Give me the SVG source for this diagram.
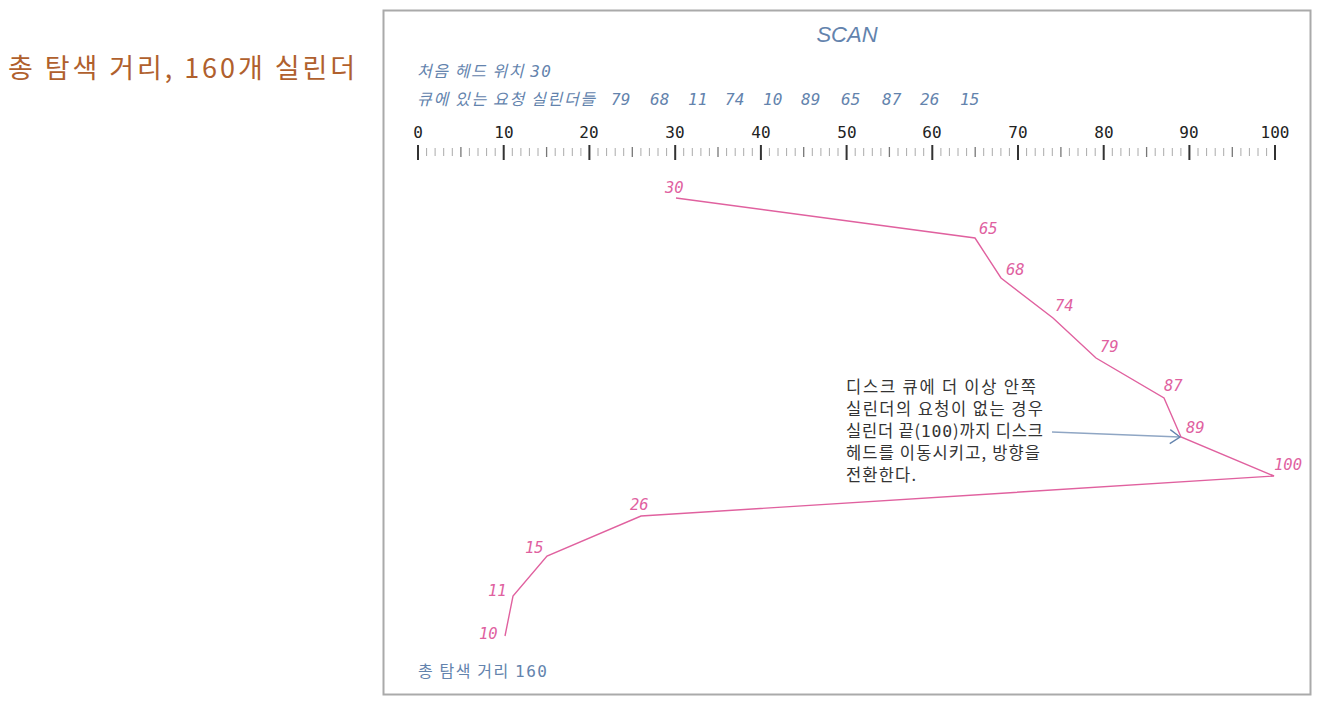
<svg xmlns="http://www.w3.org/2000/svg" width="1330" height="712" viewBox="0 0 1330 712">
<style>
.kr{font-family:"Noto Sans CJK KR","Noto Sans",sans-serif}
.mono{font-family:"DejaVu Sans Mono","Liberation Mono",monospace}
.blue{fill:#6383ad}
.lbl{font-family:"DejaVu Sans Mono","Liberation Mono",monospace;font-style:italic;font-size:15.5px;fill:#e0619f}
.maj{stroke:#333;stroke-width:2}
.mid{stroke:#777;stroke-width:1.3}
.min{stroke:#aaa;stroke-width:1}
</style>
<defs>
<marker id="arr" viewBox="0 0 12 16" refX="11" refY="8" markerWidth="12" markerHeight="16" markerUnits="userSpaceOnUse" orient="auto">
<path d="M1,1 L11,8 L1,15" fill="none" stroke="#6383ad" stroke-width="1.3"/>
</marker>
</defs>
<rect width="1330" height="712" fill="#fff"/>
<text x="8" y="78" class="kr" font-size="27" fill="#b0602d" textLength="347" lengthAdjust="spacing">총 탐색 거리, 160개 실린더</text>
<rect x="383.5" y="10.5" width="927" height="684" fill="none" stroke="#aaa" stroke-width="2"/>
<text x="847" y="42" text-anchor="middle" font-family="Liberation Sans,sans-serif" font-style="italic" font-size="22" class="blue">SCAN</text>
<text x="417" y="77" class="kr blue" font-size="16" font-style="italic" textLength="134" lengthAdjust="spacing">처음 헤드 위치 <tspan class="mono">30</tspan></text>
<text x="417" y="105" class="kr blue" font-size="16" font-style="italic" textLength="178" lengthAdjust="spacing">큐에 있는 요청 실린더들</text>
<g class="mono blue" font-size="16" font-style="italic">
<text x="611" y="105">79</text><text x="650" y="105">68</text><text x="688" y="105">11</text><text x="725" y="105">74</text><text x="763" y="105">10</text><text x="801" y="105">89</text><text x="841" y="105">65</text><text x="882" y="105">87</text><text x="920" y="105">26</text><text x="960" y="105">15</text>
</g>
<g id="ruler">
<g class="mono" font-size="16" fill="#222" text-anchor="middle">
<text x="418" y="138">0</text><text x="504" y="138">10</text><text x="589" y="138">20</text><text x="675" y="138">30</text><text x="761" y="138">40</text><text x="847" y="138">50</text><text x="932" y="138">60</text><text x="1018" y="138">70</text><text x="1104" y="138">80</text><text x="1189" y="138">90</text><text x="1275" y="138">100</text>
</g>
<path class="min" d="M426.6,148v8M435.1,148v8M443.7,148v8M452.3,148v8M469.4,148v8M478,148v8M486.6,148v8M495.2,148v8M512.3,148v8M520.9,148v8M529.4,148v8M538,148v8M555.2,148v8M563.7,148v8M572.3,148v8M580.9,148v8M598,148v8M606.6,148v8M615.2,148v8M623.7,148v8M640.9,148v8M649.4,148v8M658,148v8M666.6,148v8M683.7,148v8M692.3,148v8M700.9,148v8M709.4,148v8M726.6,148v8M735.2,148v8M743.7,148v8M752.3,148v8M769.4,148v8M778,148v8M786.6,148v8M795.2,148v8M812.3,148v8M820.9,148v8M829.4,148v8M838,148v8M855.2,148v8M863.7,148v8M872.3,148v8M880.9,148v8M898,148v8M906.6,148v8M915.2,148v8M923.7,148v8M940.9,148v8M949.4,148v8M958,148v8M966.6,148v8M983.7,148v8M992.3,148v8M1000.9,148v8M1009.4,148v8M1026.6,148v8M1035.2,148v8M1043.7,148v8M1052.3,148v8M1069.4,148v8M1078,148v8M1086.6,148v8M1095.2,148v8M1112.3,148v8M1120.9,148v8M1129.4,148v8M1138,148v8M1155.2,148v8M1163.7,148v8M1172.3,148v8M1180.9,148v8M1198,148v8M1206.6,148v8M1215.2,148v8M1223.7,148v8M1240.9,148v8M1249.4,148v8M1258,148v8M1266.6,148v8"/>
<path class="mid" d="M460.9,147v10M546.6,147v10M632.3,147v10M718,147v10M803.7,147v10M889.4,147v10M975.2,147v10M1060.9,147v10M1146.6,147v10M1232.3,147v10"/>
<path class="maj" d="M418,145v15M503.7,145v15M589.4,145v15M675.2,145v15M760.9,145v15M846.6,145v15M932.3,145v15M1018,145v15M1103.7,145v15M1189.4,145v15M1275,145v15"/>
</g>
<g id="connectors">
<polyline points="676,198 975,238 1001,278 1053,318 1096,358 1164,398 1181,437 1274,476 641,516 547,556 513,596 505,636" fill="none" stroke="#e0619f" stroke-width="1.4"/>
<line x1="1052" y1="432" x2="1180" y2="437" stroke="#8fa6c4" stroke-width="1.3" marker-end="url(#arr)"/>
</g>
<g id="labels">
<text class="lbl" x="665" y="193">30</text>
<text class="lbl" x="979" y="234">65</text>
<text class="lbl" x="1006" y="275">68</text>
<text class="lbl" x="1055" y="311">74</text>
<text class="lbl" x="1100" y="352">79</text>
<text class="lbl" x="1164" y="391">87</text>
<text class="lbl" x="1186" y="433">89</text>
<text class="lbl" x="1274" y="470">100</text>
<text class="lbl" x="630" y="510">26</text>
<text class="lbl" x="525" y="553">15</text>
<text class="lbl" x="488" y="596">11</text>
<text class="lbl" x="479" y="639">10</text>
</g>
<g id="note" class="kr" font-size="16.5" fill="#333">
<text x="846" y="393" textLength="190" lengthAdjust="spacing">디스크 큐에 더 이상 안쪽</text>
<text x="846" y="415" textLength="197" lengthAdjust="spacing">실린더의 요청이 없는 경우</text>
<text x="846" y="437" textLength="197" lengthAdjust="spacing">실린더 끝(<tspan class="mono">100</tspan>)까지 디스크</text>
<text x="846" y="459" textLength="194" lengthAdjust="spacing">헤드를 이동시키고, 방향을</text>
<text x="846" y="481" textLength="70" lengthAdjust="spacing">전환한다.</text>
</g>
<text x="418" y="677" class="kr" font-size="16" fill="#6383ad" textLength="129" lengthAdjust="spacing">총 탐색 거리 <tspan class="mono">160</tspan></text>
</svg>
